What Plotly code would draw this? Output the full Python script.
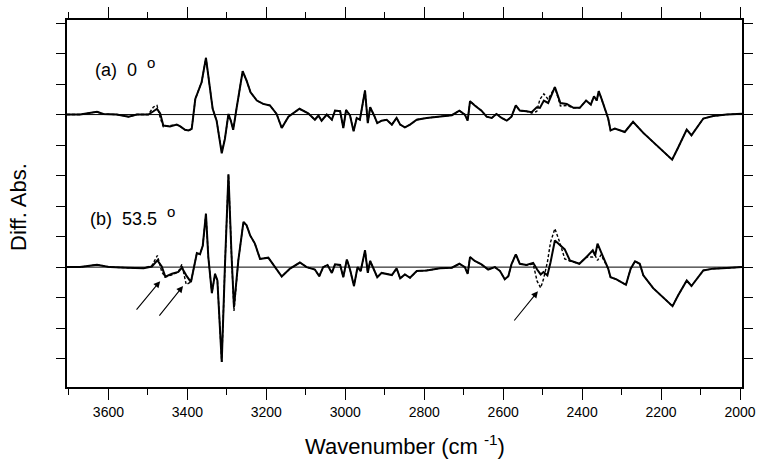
import plotly.graph_objects as go

# wavenumbers (cm-1) and difference absorbance (arb. units, tick = 1)
a_wn = [3705, 3672, 3629, 3613, 3579, 3549, 3528, 3499, 3486, 3477, 3469, 3461,
        3444, 3427, 3418, 3406, 3397, 3389, 3380, 3372, 3364, 3353, 3344, 3336,
        3326, 3313, 3305, 3296, 3290, 3284, 3275, 3260, 3250, 3240, 3224, 3208,
        3191, 3174, 3161, 3144, 3116, 3094, 3077, 3068, 3060, 3047, 3034, 3026,
        3013, 3005, 2998, 2988, 2979, 2971, 2963, 2950, 2943, 2937, 2927, 2919,
        2908, 2895, 2882, 2870, 2861, 2849, 2836, 2819, 2794, 2760, 2730, 2711,
        2697, 2690, 2684, 2672, 2655, 2642, 2629, 2617, 2604, 2591, 2579, 2568,
        2558, 2541, 2528, 2515, 2507, 2497, 2486, 2469, 2455, 2439, 2422, 2406,
        2390, 2378, 2370, 2363, 2358, 2351, 2342, 2334, 2328, 2317, 2292, 2271,
        2245, 2211, 2172, 2157, 2135, 2123, 2093, 2068, 2034, 1995]
a_solid = [0, 0, 0.09, 0.02, 0, -0.07, 0, 0, 0.11, 0.19, 0.04, -0.36,
           -0.39, -0.33, -0.39, -0.50, -0.52, -0.47, 0.51, 0.79, 1.06, 1.86, 1.01, 0.19,
           -0.20, -1.27, -0.80, 0.02, -0.20, -0.50, 0.24, 1.42, 1.11, 0.73, 0.46, 0.35,
           0.30, 0.02, -0.44, -0.07, 0.19, 0.04, -0.17, -0.03, -0.20, 0, -0.17, 0.13,
           0.11, -0.44, 0.15, -0.03, -0.55, -0.11, -0.17, 0.79, -0.28, 0.24, -0.03, -0.28,
           -0.20, -0.17, -0.33, -0.11, -0.33, -0.42, -0.33, -0.17, -0.11, -0.07, -0.02, 0.13,
           0, -0.20, 0.44, 0.30, 0.13, -0.07, -0.11, 0.02, -0.11, -0.20, -0.07, 0.30,
           0.13, 0.11, 0.08, 0.24, 0.22, 0.46, 0.38, 0.90, 0.38, 0.35, 0.22, 0.22,
           0.46, 0.33, 0.60, 0.46, 0.77, 0.52, 0.16, -0.13, -0.52, -0.46, -0.57, -0.24,
           -0.60, -1.01, -1.48, -1.09, -0.49, -0.68, -0.13, -0.05, 0, 0.03]
a_dashed = [0, 0, 0.09, 0.02, 0, -0.07, 0, 0, 0.25, 0.30, -0.10, -0.40,
            -0.36, -0.33, -0.39, -0.50, -0.52, -0.47, 0.51, 0.79, 1.06, 1.86, 1.01, 0.19,
            -0.20, -1.22, -0.80, 0.02, -0.20, -0.50, 0.24, 1.42, 1.11, 0.73, 0.46, 0.35,
            0.30, 0.02, -0.44, -0.07, 0.19, 0.04, -0.17, -0.03, -0.20, 0, -0.17, 0.13,
            0.11, -0.44, 0.15, -0.03, -0.55, -0.11, -0.17, 0.79, -0.28, 0.24, -0.03, -0.28,
            -0.20, -0.17, -0.33, -0.11, -0.33, -0.42, -0.33, -0.17, -0.11, -0.07, -0.02, 0.13,
            0, -0.20, 0.44, 0.30, 0.13, -0.07, -0.11, 0.02, -0.11, -0.20, -0.07, 0.30,
            0.13, 0.11, 0.05, 0.10, 0.50, 0.68, 0.50, 0.90, 0.28, 0.30, 0.22, 0.22,
            0.46, 0.33, 0.60, 0.46, 0.77, 0.52, 0.16, -0.13, -0.52, -0.46, -0.57, -0.24,
            -0.60, -1.01, -1.48, -1.09, -0.49, -0.68, -0.13, -0.05, 0, 0.03]

b_wn = [3705, 3672, 3629, 3596, 3553, 3511, 3490, 3476, 3465, 3456, 3439, 3423,
        3414, 3403, 3391, 3385, 3376, 3368, 3361, 3353, 3347, 3338, 3330, 3324,
        3313, 3305, 3296, 3288, 3282, 3271, 3258, 3250, 3241, 3229, 3216, 3195,
        3178, 3161, 3140, 3115, 3098, 3077, 3066, 3056, 3045, 3034, 3026, 3013,
        3005, 2996, 2988, 2978, 2969, 2961, 2950, 2943, 2937, 2927, 2919, 2908,
        2895, 2882, 2870, 2861, 2849, 2836, 2819, 2794, 2760, 2730, 2711, 2697,
        2690, 2684, 2672, 2655, 2638, 2621, 2608, 2596, 2587, 2579, 2568, 2558,
        2541, 2524, 2514, 2505, 2498, 2488, 2480, 2469, 2457, 2444, 2431, 2407,
        2389, 2373, 2367, 2361, 2352, 2342, 2334, 2328, 2313, 2289, 2277, 2266,
        2254, 2245, 2220, 2171, 2157, 2135, 2123, 2093, 2068, 2034, 1995]
b_solid = [0, 0, 0.08, 0, -0.02, -0.04, 0.02, 0.22, 0.02, -0.31, -0.22, -0.16,
           -0.02, -0.27, -0.49, -0.11, 0.46, 0.42, 0.71, 1.75, 0.33, -0.85, -0.22, -0.44,
           -3.11, 0, 3.04, 0.33, -1.31, 0.22, 1.48, 1.37, 1.04, 0.77, 0.27, 0.31,
           0, -0.31, -0.05, 0.15, 0, -0.08, -0.30, 0, 0.07, -0.19, 0.09, 0.07,
           -0.33, 0.25, -0.08, -0.62, 0, -0.13, 0.55, -0.19, 0.20, -0.08, -0.33, -0.19,
           -0.22, -0.26, -0.04, -0.37, -0.24, -0.35, -0.13, -0.11, -0.04, -0.02, 0.11, 0,
           -0.22, 0.33, 0.20, 0.09, -0.08, 0, -0.13, -0.40, -0.30, 0.09, 0.42, 0.11,
           0.07, 0.14, -0.08, -0.24, -0.16, -0.27, 0.16, 0.87, 0.73, 0.58, 0.22, 0.11,
           0.33, 0.55, 0.38, 0.77, 0.49, 0.16, -0.05, -0.33, -0.40, -0.58, -0.05, 0.19,
           0.11, -0.27, -0.69, -1.28, -0.93, -0.44, -0.62, -0.11, -0.05, -0.03, 0]
b_dashed = [0, 0, 0.08, 0, -0.02, -0.04, 0.05, 0.38, -0.15, -0.33, -0.25, -0.16,
            0.09, -0.57, -0.49, -0.11, 0.46, 0.42, 0.71, 1.75, 0.33, -0.85, -0.22, -0.44,
            -3.11, 0, 3.04, 0.33, -1.44, 0.22, 1.48, 1.37, 1.04, 0.77, 0.27, 0.31,
            0, -0.31, -0.05, 0.15, 0, -0.08, -0.30, 0, 0.07, -0.19, 0.09, 0.07,
            -0.33, 0.25, -0.08, -0.62, 0, -0.13, 0.55, -0.19, 0.20, -0.08, -0.33, -0.19,
            -0.22, -0.26, -0.04, -0.37, -0.24, -0.35, -0.13, -0.11, -0.04, -0.02, 0.11, 0,
            -0.22, 0.33, 0.20, 0.09, -0.08, 0, -0.13, -0.40, -0.30, 0.09, 0.42, 0.11,
            0.07, 0.10, -0.46, -0.68, -0.40, 0.16, 0.82, 1.26, 0.82, 0.27, 0.20, 0.11,
            0.33, 0.33, 0.38, 0.22, 0.40, 0.16, -0.05, -0.33, -0.40, -0.58, -0.05, 0.19,
            0.11, -0.27, -0.69, -1.28, -0.93, -0.44, -0.62, -0.11, -0.05, -0.03, 0]

offset_a = 5
offset_b = 0

# arrow (head wn, head y, tail wn, tail y) for spectrum b
arrow_heads = [(3469, -0.46), (3411, -0.62), (2512, -0.79)]
arrow_tails = [(3532, -1.44), (3474, -1.64), (2575, -1.80)]

font = "Liberation Sans, Arial, sans-serif"

fig = go.Figure()

for wn, ys, off in [(a_wn, a_dashed, offset_a), (b_wn, b_dashed, offset_b)]:
    fig.add_trace(go.Scatter(x=wn, y=[v + off for v in ys], mode="lines",
                             line=dict(color="black", width=1.4, dash="3px,2px"),
                             showlegend=False, hoverinfo="skip"))
for wn, ys, off in [(a_wn, a_solid, offset_a), (b_wn, b_solid, offset_b)]:
    fig.add_trace(go.Scatter(x=wn, y=[v + off for v in ys], mode="lines",
                             line=dict(color="black", width=2),
                             showlegend=False, hoverinfo="skip"))

fig.add_hline(y=offset_a, line=dict(color="black", width=1), layer="below")
fig.add_hline(y=offset_b, line=dict(color="black", width=1), layer="below")

deg = "<sup><span style='font-size:15px'>o</span></sup>"
fig.add_annotation(x=3639, y=offset_a + 1.55, xanchor="left", showarrow=False,
                   text="(a)\u00a0\u00a00\u00a0\u00a0" + deg,
                   font=dict(family=font, size=18, color="black"))
fig.add_annotation(x=3651, y=offset_b + 1.68, xanchor="left", showarrow=False,
                   text="(b)\u00a0\u00a053.5\u00a0\u00a0" + deg,
                   font=dict(family=font, size=18, color="black"))

for (hx, hy), (tx, ty) in zip(arrow_heads, arrow_tails):
    fig.add_annotation(x=hx, y=hy, ax=tx, ay=ty, xref="x", yref="y",
                       axref="x", ayref="y", text="", showarrow=True,
                       arrowhead=2, arrowsize=1.2, arrowwidth=1.1,
                       arrowcolor="black")

# axis titles placed as paper annotations
fig.add_annotation(x=0.5, y=-0.158, xref="paper", yref="paper", showarrow=False,
                   xanchor="center", yanchor="middle",
                   text="Wavenumber (cm\u00a0<sup>-1</sup>)",
                   font=dict(family=font, size=22, color="black"))
fig.add_annotation(x=-0.073, y=0.49, xref="paper", yref="paper", showarrow=False,
                   xanchor="center", yanchor="middle", textangle=-90,
                   text="Diff. Abs.",
                   font=dict(family=font, size=22, color="black"))

fig.update_layout(
    width=762, height=468,
    margin=dict(l=67, r=20, t=20, b=81),
    paper_bgcolor="white", plot_bgcolor="white",
    font=dict(family=font, color="black"),
)
fig.update_xaxes(
    range=[3705, 1995], tick0=2000, dtick=200,
    ticks="outside", ticklen=11, tickwidth=1.2, tickcolor="black",
    minor=dict(ticks="outside", dtick=100, ticklen=6, tickwidth=1.2, tickcolor="black"),
    showline=True, linecolor="black", linewidth=1.5, mirror="ticks",
    showgrid=False, zeroline=False, automargin=False,
    tickfont=dict(size=14),
)
fig.update_yaxes(
    range=[-3.93, 8.10], tick0=0, dtick=1,
    ticks="outside", ticklen=9, tickwidth=1.2, tickcolor="black",
    showticklabels=False,
    showline=True, linecolor="black", linewidth=1.5, mirror="ticks",
    showgrid=False, zeroline=False, automargin=False,
)

# drop the browser's default body margin so the figure sits at the page corner
fig.write_html("out.html", config={"displayModeBar": False},
               post_script="document.body.style.margin='0';")
